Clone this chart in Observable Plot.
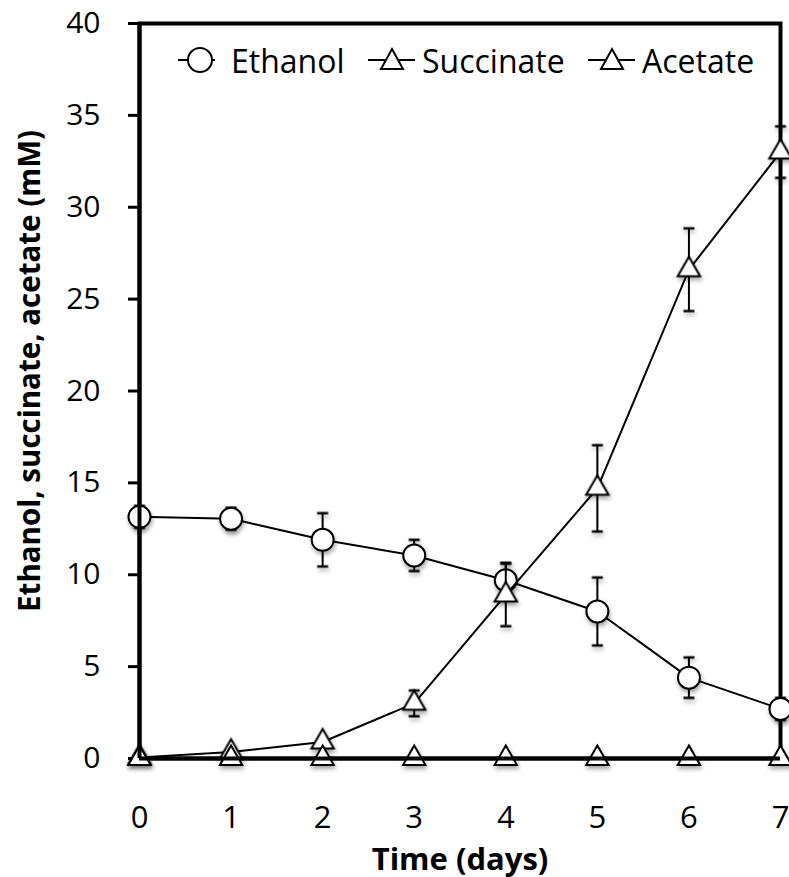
<!DOCTYPE html>
<html><head><meta charset="utf-8">
<script src="https://cdn.jsdelivr.net/npm/d3@7"></script>
<script src="https://cdn.jsdelivr.net/npm/@observablehq/plot@0.6"></script>
<style>
body{margin:0;background:#fff;}
#wrap{position:relative;width:789px;height:877px;font-family:"Open Sans",Lato,sans-serif;overflow:hidden;}
.leg{position:absolute;display:flex;align-items:center;height:40px;top:40px;font-size:32px;color:#000;}
</style></head><body><div id="wrap"></div>
<script>
const days = [0,1,2,3,4,5,6,7];
const ethanol = [13.15,13.05,11.9,11.05,9.7,8.0,4.4,2.7];
const ethanolErr = [0.6,0.6,1.45,0.85,0.95,1.85,1.1,0.6];
const succinate = [0.05,0.35,0.9,3.0,8.9,14.7,26.6,33.0];
const succinateErr = [0,0.1,0.15,0.7,1.7,2.35,2.25,1.4];
const acetate = [0,0,0,0,0,0,0,0];
const acetateErr = [0,0,0,0,0,0,0,0];
const yTicks = [0,5,10,15,20,25,30,35,40];
const xTicks = [0,1,2,3,4,5,6,7];
const seriesNames = ["Ethanol","Succinate","Acetate"];
const yLabel = "Ethanol, succinate, acetate (mM)";
const xLabel = "Time (days)";

const rows = (vals, errs) => days.map((d,i)=>({day:d, v:vals[i], e:errs[i]}));
const cap = {draw(ctx,size){const r=Math.sqrt(size/Math.PI); ctx.moveTo(-r,0); ctx.lineTo(r,0);}};

function series(data, symbol, r, lw){
  const withErr = data.filter(d=>d.e>0);
  return [
    Plot.ruleX(withErr, {x:"day", y1:d=>d.v-d.e, y2:d=>d.v+d.e, stroke:"black", strokeWidth:2}),
    Plot.dot(withErr, {x:"day", y:d=>d.v+d.e, symbol:cap, r:5.5, fill:"none", stroke:"black", strokeWidth:2.5}),
    Plot.dot(withErr, {x:"day", y:d=>d.v-d.e, symbol:cap, r:5.5, fill:"none", stroke:"black", strokeWidth:2.5}),
    Plot.line(data, {x:"day", y:"v", stroke:"black", strokeWidth:lw}),
    Plot.dot(data, {x:"day", y:"v", symbol, r, fill:"white", stroke:"black", strokeWidth:2})
  ];
}

const FONT = "'Open Sans', Lato, sans-serif";
const chart = Plot.plot({
  width: 789, height: 877,
  marginLeft: 139, marginRight: 9, marginTop: 23, marginBottom: 119,
  style: {fontFamily: FONT, fontSize: "30px", background: "white", color: "black"},
  x: {domain: [0,7]},
  y: {domain: [0,40]},
  marks: [
    Plot.frame({stroke:"black", strokeWidth:4}),
    Plot.axisY({ticks: yTicks, tickSize: 11, tickPadding: 28, strokeWidth: 3, fontSize: 30, label: null, tickFormat: d=>String(d)}),
    Plot.text([yLabel], {text: d=>d, frameAnchor: "left", rotate: -90, dx: -109, dy: -20, fontWeight: "bold", fontSize: 29.5, textAnchor: "middle", lineAnchor: "middle"}),
    Plot.axisX({ticks: xTicks, tickSize: 0, tickPadding: 47, fontSize: 31, label: null, tickFormat: d=>String(d)}),
    Plot.axisX({ticks: [], tickSize: 0, label: xLabel, labelAnchor: "center", labelOffset: 111, fontWeight: "bold", fontSize: 31, labelArrow: "none"}),
    ...series(rows(ethanol, ethanolErr), "circle", 11, 2),
    ...series(rows(succinate, succinateErr), "triangle", 8.3, 2),
    ...series(rows(acetate, acetateErr), "triangle", 8.3, 2),
    Plot.ruleX([0], {stroke:"black", strokeWidth:4}),
    Plot.ruleY([0], {stroke:"black", strokeWidth:4})
  ]
});
// shadow under markers
d3.select(chart).selectAll('g[aria-label="dot"]').style("filter","drop-shadow(1px 3px 2px rgba(0,0,0,0.35))");
const wrap = document.getElementById("wrap");
wrap.appendChild(chart);

// legend overlay
const legendItems = [
  {name: seriesNames[0], sym: "circle", left: 176, w: 40, c: 24, gap: 15},
  {name: seriesNames[1], sym: "triangle", left: 366, w: 50, c: 26, gap: 6},
  {name: seriesNames[2], sym: "triangle", left: 586, w: 50, c: 26, gap: 6}
];
for (const it of legendItems) {
  const div = document.createElement("div");
  div.className = "leg";
  div.style.left = it.left + "px";
  const m = it.sym === "circle"
    ? `<circle cx="${it.c}" cy="20" r="12" fill="white" stroke="black" stroke-width="2"/>`
    : `<path d="M${it.c},9 L${it.c+11},29 L${it.c-11},29 Z" fill="white" stroke="black" stroke-width="2"/>`;
  div.innerHTML = `<svg width="${it.w}" height="40"><line x1="2" x2="${it.w-1}" y1="20" y2="20" stroke="black" stroke-width="2"/>${m}</svg><span style="margin-left:${it.gap}px">${it.name}</span>`;
  wrap.appendChild(div);
}
</script></body></html>
